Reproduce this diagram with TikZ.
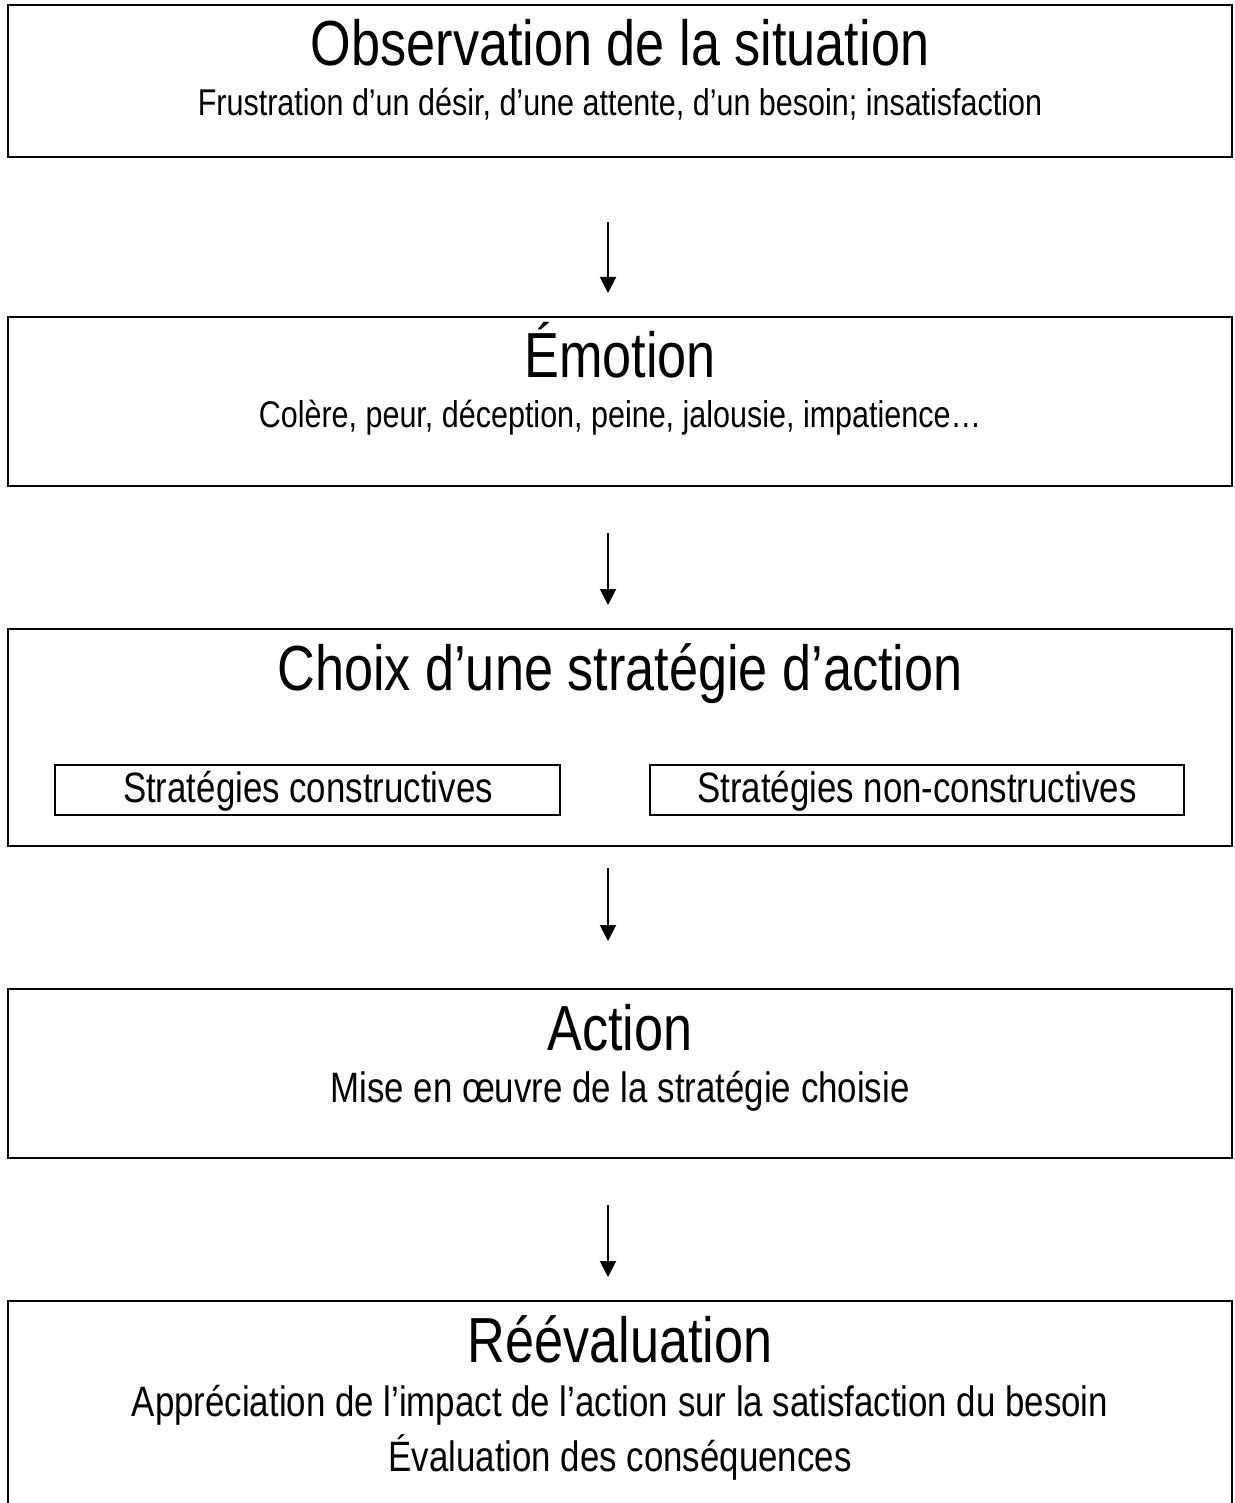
\documentclass[tikz,border=0pt]{standalone}
\usepackage{fontspec}
\setmainfont[FakeStretch=0.82]{Liberation Sans}
\usetikzlibrary{arrows.meta}
\begin{document}
\begin{tikzpicture}[x=1pt,y=1pt,
 frame/.style={draw, line width=2pt, inner sep=0pt, outer sep=0pt, anchor=north west, minimum width=1224pt},
 ttl/.style={anchor=base, inner sep=0pt, font=\fontsize{63.7}{70}\selectfont},
 sub/.style={anchor=base, inner sep=0pt, font=\fontsize{37.2}{44}\selectfont},
 med/.style={anchor=base, inner sep=0pt, font=\fontsize{42.5}{50}\selectfont},
 arr/.style={-{Triangle[width=16pt,length=16pt]}, line width=2pt}]
\useasboundingbox (0,0) rectangle (1234,-1503);
% boxes
\node[frame, minimum height=152pt] (b1) at (8,-5) {};
\node[frame, minimum height=169pt] (b2) at (8,-317) {};
\node[frame, minimum height=217pt] (b3) at (8,-629) {};
\node[frame, minimum width=505pt, minimum height=50pt] (s1) at (55,-765) {};
\node[frame, minimum width=534pt, minimum height=50pt] (s2) at (650,-765) {};
\node[frame, minimum height=169pt] (b4) at (8,-989) {};
\node[frame, minimum height=260pt] (b5) at (8,-1301) {};
% texts
\node[ttl] (t1) at (620,-66) {Observation de la situation};
\node[sub] (u1) at (620,-116) {Frustration d’un désir, d’une attente, d’un besoin; insatisfaction};
\node[ttl] (t2) at (620,-377) {Émotion};
\node[sub] (u2) at (620,-427) {Colère, peur, déception, peine, jalousie, impatience…};
\node[ttl] (t3) at (620,-690) {Choix d’une stratégie d’action};
\node[med] (l1) at (308,-802) {Stratégies constructives};
\node[med] (l2) at (917,-802) {Stratégies non-constructives};
\node[ttl] (t4) at (620,-1050) {Action};
\node[med] (u4) at (620,-1102) {Mise en œuvre de la stratégie choisie};
\node[ttl] (t5) at (620,-1362) {Réévaluation};
\node[med] (u5a) at (620,-1416) {Appréciation de l’impact de l’action sur la satisfaction du besoin};
\node[med] (u5b) at (620,-1471) {Évaluation des conséquences};
% arrows
\coordinate (ax) at (608,0);
\draw[arr, shorten <=65pt, shorten >=24pt] (b1.south -| ax) -- (b2.north -| ax);
\draw[arr, shorten <=47pt, shorten >=24pt] (b2.south -| ax) -- (b3.north -| ax);
\draw[arr, shorten <=22pt, shorten >=48pt] (b3.south -| ax) -- (b4.north -| ax);
\draw[arr, shorten <=47pt, shorten >=24pt] (b4.south -| ax) -- (b5.north -| ax);
\end{tikzpicture}
\end{document}
